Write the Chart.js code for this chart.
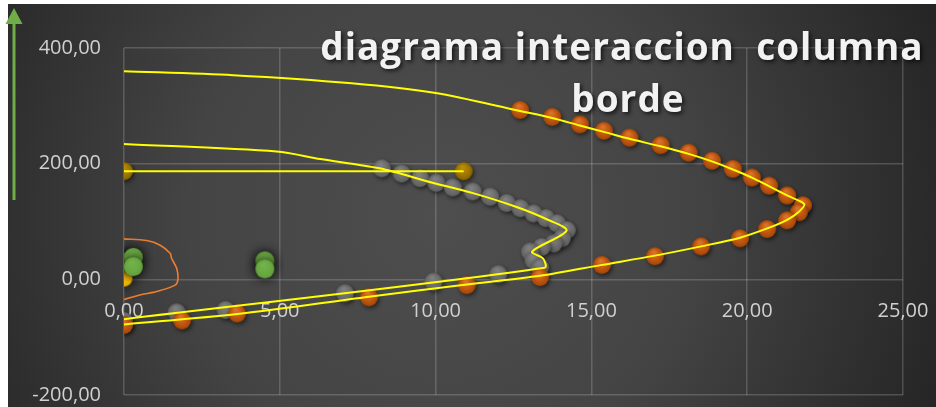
<!DOCTYPE html>
<html>
<head>
<meta charset="utf-8">
<script src="https://cdn.jsdelivr.net/npm/chart.js@4.4.0/dist/chart.umd.min.js"></script>
<style>
  html, body { margin: 0; padding: 0; background: #ffffff; }
  #wrap { width: 936px; height: 407px; }
</style>
</head>
<body>
<div id="wrap"><canvas id="chart" width="936" height="407"></canvas></div>
<script>
// Column interaction diagram (M, P pairs)

const titleLines = ['diagrama interaccion  columna', 'borde'];
const xTicks = [0, 5, 10, 15, 20, 25];
const yTicks = [-200, 0, 200, 400];

// nominal curve, markers
const nomX = [12.71, 13.74, 14.63, 15.40, 16.22, 17.22, 18.12, 18.87, 19.54, 20.15, 20.70, 21.28, 21.79,
              21.66, 21.28, 20.64, 19.77, 18.52, 17.04, 15.34, 13.35, 11.00, 7.86, 3.63, 1.86, 0.00];
const nomY = [293, 281, 268, 257, 245, 232, 219, 205, 191, 176, 162, 145, 128,
              116, 102, 87, 71, 57, 40, 25, 4, -10, -31, -59, -71, -79];

// nominal curve, smoothed line
const nomLineX = [0, 3.5, 7.3, 10.0, 12.71, 13.74, 14.63, 15.40, 16.22, 17.22, 18.12, 18.87, 19.54, 20.15, 20.70, 21.28, 21.83,
                  21.66, 21.28, 20.64, 19.77, 18.52, 17.04, 15.34, 13.35, 11.00, 7.86, 3.63, 0];
const nomLineY = [360, 353, 339, 322, 291, 279, 266, 255, 243, 230, 217, 204, 190, 176, 161, 145, 130,
                  117, 103, 88, 72, 57, 41, 25, 6, -9, -30, -60, -78];

// design curve, markers
const desX = [8.27, 8.91, 9.50, 10.02, 10.55, 11.19, 11.75, 12.28, 12.72, 13.14, 13.54, 13.89, 14.21,
              14.05, 13.78, 13.40, 13.03, 13.14, 13.35, 12.01, 9.93, 7.09, 3.26, 1.69, 0.00];
const desY = [192, 183, 175, 167, 159, 152, 143, 132, 123, 114, 106, 97, 85,
              71, 62, 56, 48, 33, 21, 9, -4, -24, -53, -57, -72];

// design curve, smoothed line
const desLineX = [0, 4.9, 6.3, 8.2, 9.9, 11.2, 12.6, 13.6, 14.2, 13.1, 13.45, 13.5, 0];
const desLineY = [234, 221, 208, 192, 167, 149, 125, 103, 84, 48, 36, 20, -69];

// axial load cap
const capX = [0, 10.9];
const capY = [187, 187];

// small curve near origin
const smallX = [0, 0.73, 1.16, 1.48, 1.53, 1.69, 1.73, 1.64, 1.05, 0.51, 0];
const smallY = [70, 67, 59, 45, 36, 19, 0, -10, -21, -27, -35];

// load cases
const loadX = [0, 0.3, 0.3, 4.52, 4.52];
const loadY = [30, 38, 22, 32, 18];
const loadYellowX = [0];
const loadYellowY = [2];

const toPts = (xs, ys) => xs.map((x, i) => ({ x: x, y: ys[i] }));
const fmt = v => v.toFixed(2).replace('.', ',');

// glossy marker sprite
function makeBall(d, light, base, dark, shadow) {
  const pad = 10;
  const c = document.createElement('canvas');
  c.width = d + pad * 2;
  c.height = d + pad * 2;
  const g = c.getContext('2d');
  const cx = c.width / 2, cy = c.height / 2, r = d / 2;
  const grad = g.createRadialGradient(cx - r * 0.15, cy - r * 0.45, r * 0.1, cx, cy, r);
  grad.addColorStop(0, light);
  grad.addColorStop(0.6, base);
  grad.addColorStop(1, dark);
  g.shadowColor = shadow.color;
  g.shadowBlur = shadow.blur;
  g.shadowOffsetX = shadow.dx;
  g.shadowOffsetY = shadow.dy;
  g.beginPath();
  g.arc(cx, cy, r, 0, Math.PI * 2);
  g.fillStyle = grad;
  g.fill();
  return c;
}

const softShadow = { color: 'rgba(0,0,0,0.55)', blur: 4, dx: 1.5, dy: 2 };
const glow = { color: 'rgba(0,0,0,1)', blur: 12, dx: 0, dy: 0 };
const orangeBall = makeBall(18, '#d9742c', '#c0560f', '#a0460a', softShadow);
const greyBall = makeBall(18, '#808080', '#6e6e6e', '#5e5e5e', softShadow);
const goldBall = makeBall(18, '#b88e10', '#a27800', '#846100', softShadow);
const greenBall = makeBall(19, '#74b24b', '#6aab42', '#62a03c', glow);
const yellowBall = makeBall(17, '#ffcf3a', '#ffc000', '#e8b000', glow);

const background = {
  id: 'background',
  beforeDraw(chart) {
    const ctx = chart.ctx;
    ctx.save();
    ctx.fillStyle = '#ffffff';
    ctx.fillRect(0, 0, chart.width, chart.height);
    const grad = ctx.createRadialGradient(440, 215, 0, 440, 215, 560);
    grad.addColorStop(0, '#4e4e4e');
    grad.addColorStop(0.45, '#444444');
    grad.addColorStop(1, '#222222');
    ctx.fillStyle = grad;
    ctx.fillRect(8, 4, chart.width - 8, chart.height - 4);
    ctx.restore();
  }
};

// title and green arrow on the left
const decorations = {
  id: 'decorations',
  afterDraw(chart) {
    const ctx = chart.ctx;
    ctx.save();
    ctx.strokeStyle = '#70ad47';
    ctx.fillStyle = '#70ad47';
    ctx.lineWidth = 3;
    ctx.beginPath();
    ctx.moveTo(14, 200);
    ctx.lineTo(14, 22);
    ctx.stroke();
    ctx.beginPath();
    ctx.moveTo(14, 8);
    ctx.lineTo(22.5, 24);
    ctx.lineTo(5.5, 24);
    ctx.closePath();
    ctx.fill();

    ctx.font = 'bold 37px "Open Sans"';
    ctx.fillStyle = '#f2f2f2';
    ctx.textAlign = 'center';
    ctx.textBaseline = 'alphabetic';
    ctx.letterSpacing = '1px';
    ctx.shadowColor = 'rgba(0,0,0,0.7)';
    ctx.shadowBlur = 4;
    ctx.shadowOffsetX = 2;
    ctx.shadowOffsetY = 2;
    ctx.fillText(titleLines[0], 622, 60);
    ctx.fillText(titleLines[1], 628, 112);
    ctx.restore();
  }
};

const lineDs = (xs, ys, color, width, order) => ({
  data: toPts(xs, ys),
  showLine: true,
  borderColor: color,
  borderWidth: width,
  pointRadius: 0,
  pointHoverRadius: 0,
  tension: 0.3,
  fill: false,
  order: order
});

const markerDs = (xs, ys, sprite, order) => ({
  data: toPts(xs, ys),
  showLine: false,
  pointStyle: sprite,
  pointRadius: 8,
  order: order
});

const gridColor = 'rgba(217,217,217,0.22)';
const tickFont = { family: '"Open Sans"', size: 20 };

// keep the plot box fixed: no extra room for overhanging tick labels
const noOverhang = s => { s.paddingLeft = 0; s.paddingRight = 0; s.paddingTop = 0; s.paddingBottom = 0; };

const ctx = document.getElementById('chart').getContext('2d');
new Chart(ctx, {
  type: 'scatter',
  data: {
    datasets: [
      markerDs(desX, desY, greyBall, 10),
      markerDs(nomX, nomY, orangeBall, 9),
      markerDs(capX, capY, goldBall, 8),
      lineDs(smallX, smallY, '#ed7d31', 1.6, 7),
      lineDs(nomLineX, nomLineY, '#ffff00', 2, 5),
      lineDs(desLineX, desLineY, '#ffff00', 2, 5),
      lineDs(capX, capY, '#ffff00', 2, 5),
      markerDs(loadYellowX, loadYellowY, yellowBall, 2),
      markerDs(loadX, loadY, greenBall, 1)
    ]
  },
  options: {
    responsive: false,
    animation: false,
    devicePixelRatio: 1,
    layout: { padding: { left: 0, right: 33, top: 48, bottom: 12 } },
    plugins: {
      legend: { display: false },
      title: { display: false },
      tooltip: { enabled: false }
    },
    scales: {
      x: {
        type: 'linear',
        position: { y: 0 },
        min: xTicks[0],
        max: xTicks[xTicks.length - 1],
        afterBuildTicks: s => { s.ticks = xTicks.map(v => ({ value: v })); },
        // axis sits on y = 0, so it takes no room of its own
        afterFit: s => { s.height = 0; noOverhang(s); },
        ticks: { callback: fmt, color: '#d0d0d0', font: tickFont, padding: 20, maxRotation: 0 },
        grid: { color: gridColor, lineWidth: 1.5, drawTicks: false },
        border: { display: false }
      },
      y: {
        type: 'linear',
        position: 'left',
        min: yTicks[0],
        max: yTicks[yTicks.length - 1],
        afterBuildTicks: s => { s.ticks = yTicks.map(v => ({ value: v })); },
        afterFit: s => { s.width = 124; noOverhang(s); },
        ticks: { callback: fmt, color: '#d0d0d0', font: tickFont, padding: 23 },
        grid: { color: gridColor, lineWidth: 1.5, drawTicks: false },
        border: { display: false }
      }
    }
  },
  plugins: [background, decorations]
});
</script>
</body>
</html>
